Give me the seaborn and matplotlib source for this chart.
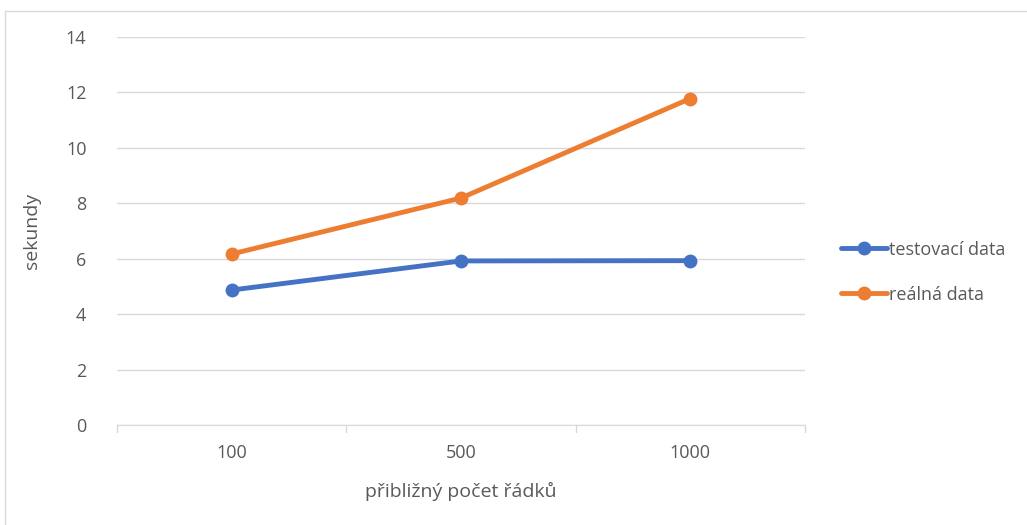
import seaborn as sns
import matplotlib.pyplot as plt
import pandas as pd
from matplotlib.patches import Rectangle

# data
radky = ['100', '500', '1000']
testovaci = [4.87, 5.92, 5.93]
realna = [6.17, 8.19, 11.78]

df = pd.DataFrame({
    'radky': radky * 2,
    'sekundy': testovaci + realna,
    'serie': ['testovací data'] * 3 + ['reálná data'] * 3,
})

sns.set_style('white')
plt.rcParams['font.family'] = ['Open Sans', 'DejaVu Sans']
sedy = '#595959'

fig = plt.figure(figsize=(10.27, 5.25), dpi=100)
fig.patches.append(Rectangle((5 / 1027, -0.1), 1.2, 1 - 11 / 525 + 0.1, transform=fig.transFigure,
                             fill=False, edgecolor='#d9d9d9', linewidth=1))
ax = fig.add_axes([117 / 1027, 1 - 425 / 525, (805 - 117) / 1027, (425 - 37) / 525])

df['x'] = df['radky'].map({r: i for i, r in enumerate(radky)})
sns.lineplot(data=df, x='x', y='sekundy', hue='serie', palette=['#4472c4', '#ed7d31'],
             marker='o', markersize=10, markeredgewidth=0, linewidth=3.5, ax=ax)

ax.set_xlim(-0.5, 2.5)
ax.set_ylim(0, 14)
ax.set_yticks(range(0, 15, 2))
ax.set_xticks(range(len(radky)))
ax.set_xticklabels(radky)
ax.tick_params(axis='both', colors=sedy, labelsize=13, length=0)
ax.tick_params(axis='x', pad=14)
ax.tick_params(axis='y', pad=22)
ax.grid(axis='y', color='#d9d9d9', linewidth=1)
ax.set_axisbelow(True)
for s in ['top', 'right', 'left']:
    ax.spines[s].set_visible(False)
ax.spines['bottom'].set_color('#d9d9d9')
ax.spines['bottom'].set_zorder(1)
# category boundary ticks
for b in [-0.5, 0.5, 1.5, 2.5]:
    ax.plot([b, b], [0, -0.25], color='#d9d9d9', lw=1, clip_on=False)

ax.set_xlabel('přibližný počet řádků', color=sedy, fontsize=14, labelpad=14)
ax.set_ylabel('sekundy', color=sedy, fontsize=14, labelpad=18)

leg = ax.legend(loc='center left', bbox_to_anchor=(1.028, 0.394), frameon=False,
                fontsize=13, handlelength=2.6, handletextpad=0.1, labelspacing=1.5,
                labelcolor=sedy)

fig.savefig('out.png', dpi=100)
